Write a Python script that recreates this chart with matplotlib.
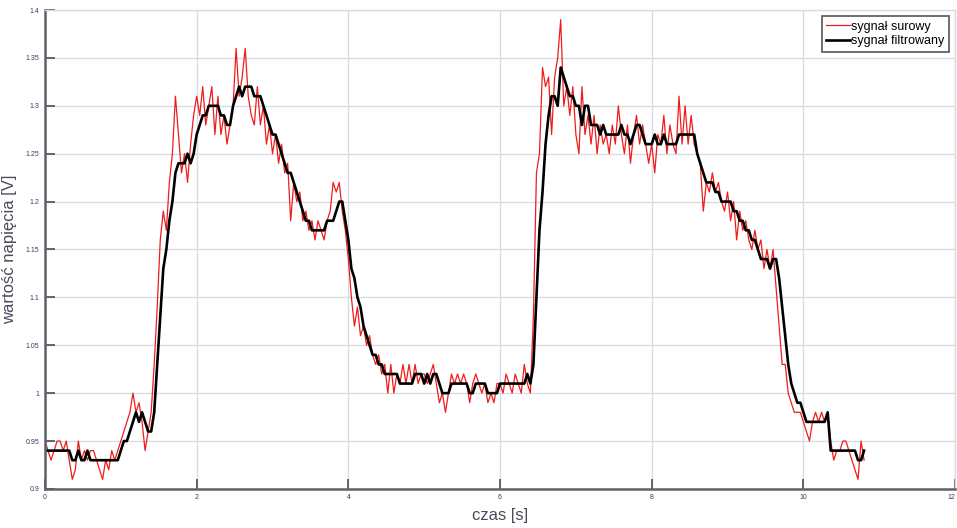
import numpy as np
import matplotlib
matplotlib.use("Agg")
import matplotlib.pyplot as plt
from matplotlib.ticker import FuncFormatter

plt.rcParams['font.family'] = ['Liberation Sans', 'DejaVu Sans']

# sampling period of the recorded signal [s]
dt = 0.04

# raw voltage samples [V]
raw = [
    0.95, 0.94, 0.93, 0.94, 0.95, 0.95, 0.94, 0.95, 0.93, 0.91, 0.92, 0.95, 0.93, 0.94, 0.93, 0.94, 0.94, 0.93, 0.92, 0.91, 0.93, 0.92, 0.94, 0.93, 0.94,
    0.95, 0.96, 0.97, 0.98, 1.00, 0.98, 0.99, 0.97, 0.94, 0.96, 0.98, 1.03, 1.09, 1.16, 1.19, 1.17, 1.22, 1.25, 1.31, 1.27, 1.23, 1.25, 1.22, 1.26, 1.29,
    1.31, 1.29, 1.32, 1.28, 1.30, 1.32, 1.27, 1.31, 1.27, 1.29, 1.26, 1.28, 1.30, 1.36, 1.31, 1.33, 1.36, 1.31, 1.29, 1.28, 1.32, 1.28, 1.30, 1.26, 1.28,
    1.25, 1.27, 1.24, 1.26, 1.23, 1.24, 1.18, 1.22, 1.20, 1.21, 1.18, 1.19, 1.17, 1.18, 1.16, 1.18, 1.17, 1.16, 1.18, 1.19, 1.22, 1.21, 1.22, 1.19, 1.17,
    1.14, 1.10, 1.07, 1.09, 1.06, 1.07, 1.05, 1.06, 1.04, 1.03, 1.04, 1.02, 1.03, 1.00, 1.03, 1.00, 1.02, 1.01, 1.03, 1.01, 1.03, 1.01, 1.03, 1.01, 1.02,
    1.02, 1.01, 1.02, 1.03, 1.01, 0.99, 1.00, 0.98, 1.00, 1.02, 1.01, 1.02, 1.01, 1.02, 1.01, 0.99, 1.01, 1.02, 1.01, 1.00, 1.01, 0.99, 1.00, 0.99, 1.01,
    1.01, 1.00, 1.02, 1.01, 1.00, 1.02, 1.01, 1.00, 1.03, 1.01, 1.00, 1.08, 1.23, 1.25, 1.34, 1.32, 1.33, 1.27, 1.33, 1.35, 1.39, 1.30, 1.32, 1.29, 1.32,
    1.27, 1.25, 1.32, 1.27, 1.29, 1.26, 1.29, 1.25, 1.28, 1.26, 1.27, 1.25, 1.28, 1.26, 1.30, 1.27, 1.25, 1.28, 1.24, 1.27, 1.29, 1.26, 1.28, 1.26, 1.24,
    1.26, 1.23, 1.27, 1.26, 1.29, 1.25, 1.28, 1.26, 1.25, 1.31, 1.26, 1.30, 1.26, 1.29, 1.26, 1.25, 1.24, 1.19, 1.22, 1.21, 1.23, 1.21, 1.22, 1.20, 1.19,
    1.21, 1.18, 1.20, 1.16, 1.19, 1.17, 1.18, 1.16, 1.15, 1.17, 1.15, 1.16, 1.13, 1.15, 1.13, 1.15, 1.11, 1.07, 1.03, 1.03, 1.00, 0.99, 0.98, 0.98, 0.98,
    0.97, 0.96, 0.95, 0.97, 0.98, 0.97, 0.98, 0.97, 0.98, 0.95, 0.93, 0.94, 0.94, 0.95, 0.95, 0.94, 0.93, 0.92, 0.91, 0.95, 0.93,
]

# filtered voltage samples [V]
filtered = [
    0.94, 0.94, 0.94, 0.94, 0.94, 0.94, 0.94, 0.94, 0.94, 0.93, 0.93, 0.94, 0.93, 0.93, 0.94, 0.93, 0.93, 0.93, 0.93, 0.93, 0.93, 0.93, 0.93, 0.93, 0.93,
    0.94, 0.95, 0.95, 0.96, 0.97, 0.98, 0.97, 0.98, 0.97, 0.96, 0.96, 0.98, 1.03, 1.08, 1.13, 1.15, 1.18, 1.20, 1.23, 1.24, 1.24, 1.24, 1.25, 1.24, 1.25,
    1.27, 1.28, 1.29, 1.29, 1.30, 1.30, 1.30, 1.30, 1.29, 1.29, 1.28, 1.28, 1.30, 1.31, 1.32, 1.31, 1.32, 1.32, 1.32, 1.31, 1.31, 1.31, 1.30, 1.29, 1.28,
    1.27, 1.27, 1.26, 1.25, 1.24, 1.23, 1.23, 1.22, 1.21, 1.20, 1.19, 1.18, 1.18, 1.17, 1.17, 1.17, 1.17, 1.17, 1.18, 1.18, 1.18, 1.19, 1.20, 1.20, 1.18,
    1.16, 1.13, 1.12, 1.10, 1.09, 1.07, 1.06, 1.05, 1.04, 1.04, 1.03, 1.03, 1.02, 1.02, 1.02, 1.02, 1.02, 1.01, 1.01, 1.01, 1.01, 1.01, 1.02, 1.02, 1.02,
    1.01, 1.02, 1.01, 1.02, 1.02, 1.01, 1.00, 1.00, 1.00, 1.01, 1.01, 1.01, 1.01, 1.01, 1.01, 1.00, 1.00, 1.01, 1.01, 1.01, 1.01, 1.00, 1.00, 1.00, 1.00,
    1.01, 1.01, 1.01, 1.01, 1.01, 1.01, 1.01, 1.01, 1.01, 1.02, 1.01, 1.03, 1.10, 1.17, 1.21, 1.26, 1.29, 1.31, 1.31, 1.30, 1.34, 1.33, 1.32, 1.31, 1.31,
    1.30, 1.30, 1.28, 1.30, 1.30, 1.28, 1.28, 1.28, 1.27, 1.28, 1.27, 1.27, 1.27, 1.27, 1.27, 1.28, 1.27, 1.27, 1.26, 1.27, 1.28, 1.28, 1.27, 1.26, 1.26,
    1.26, 1.27, 1.26, 1.26, 1.27, 1.26, 1.26, 1.26, 1.26, 1.27, 1.27, 1.27, 1.27, 1.27, 1.27, 1.25, 1.24, 1.23, 1.22, 1.22, 1.22, 1.21, 1.21, 1.20, 1.20,
    1.20, 1.20, 1.19, 1.19, 1.18, 1.18, 1.17, 1.17, 1.16, 1.16, 1.15, 1.14, 1.14, 1.14, 1.13, 1.14, 1.14, 1.12, 1.09, 1.06, 1.03, 1.01, 1.00, 0.99, 0.99,
    0.98, 0.97, 0.97, 0.97, 0.97, 0.97, 0.97, 0.97, 0.98, 0.94, 0.94, 0.94, 0.94, 0.94, 0.94, 0.94, 0.94, 0.94, 0.93, 0.93, 0.94,
]

x_ticks = [0, 2, 4, 6, 8, 10, 12]
y_ticks = [0.9, 0.95, 1.0, 1.05, 1.1, 1.15, 1.2, 1.25, 1.3, 1.35, 1.4]

t = np.arange(len(raw)) * dt

fig = plt.figure(figsize=(9.57, 5.28), dpi=100)
ax = fig.add_axes([0.047, 0.074, 0.951, 0.907])

grid_c = '#d9dde2'
ax.grid(True, color=grid_c, linewidth=1.0)
ax.set_axisbelow(True)

ax.plot(t, raw, color='#f01c1c', linewidth=0.9, label='sygnał surowy')
ax.plot(t, filtered, color='black', linewidth=1.9, label='sygnał filtrowany')

ax.set_xlim(0, 12)
ax.set_ylim(0.9, 1.4)
ax.set_xticks(x_ticks)
ax.set_yticks(y_ticks)
ax.yaxis.set_major_formatter(FuncFormatter(lambda v, p: '%g' % round(v, 2)))
ax.tick_params(direction='in', length=7, width=1.3, color='#5a5a5a',
               labelsize=5, labelcolor='#3a3a6a', pad=4)
# keep the last x label inside the canvas
ax.get_xticklabels()[-1].set_horizontalalignment('right')

for side in ('left', 'bottom'):
    ax.spines[side].set_color('#5f6368')
    ax.spines[side].set_linewidth(1.8)
for side in ('top', 'right'):
    ax.spines[side].set_color(grid_c)
    ax.spines[side].set_linewidth(1.0)

ax.set_xlabel('czas [s]', fontsize=12, color='#4a4a5a', labelpad=5)
ax.set_ylabel('wartość napięcia [V]', fontsize=12, color='#4a4a5a', labelpad=6)

leg = ax.legend(loc='upper right', fontsize=9, frameon=True, fancybox=False,
                handlelength=1.9, handletextpad=0.1, labelspacing=0.22,
                borderpad=0.35, borderaxespad=0.5)
leg.get_frame().set_edgecolor('#3c3c3c')
leg.get_frame().set_linewidth(1.3)

fig.savefig('out.png', dpi=100)
